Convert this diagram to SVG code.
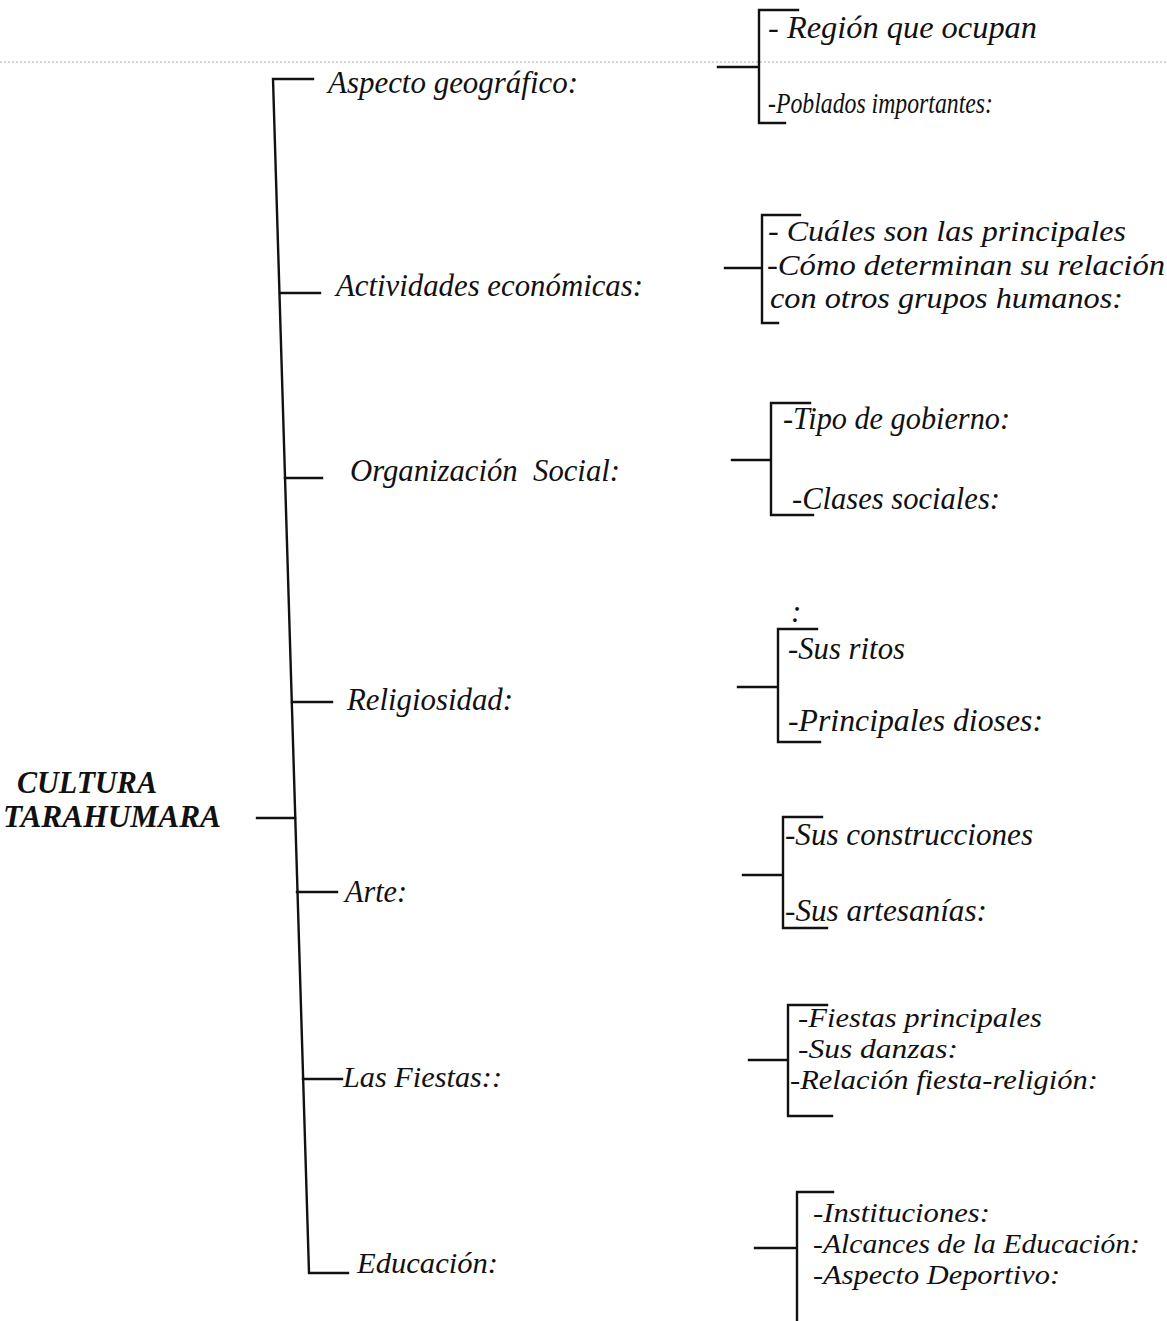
<svg xmlns="http://www.w3.org/2000/svg" width="1167" height="1321" viewBox="0 0 1167 1321">
<style>
.ln{fill:none;stroke:#111;stroke-width:2.4;stroke-linecap:square}
.t{font-family:"Liberation Serif","Times New Roman",serif;font-style:italic;font-size:31px;fill:#111;white-space:pre}
.s{font-size:29px}
.m{font-size:27px}
.b{font-weight:bold;font-size:31px}
</style>
<rect width="1167" height="1321" fill="#fff"/>
<line x1="0" y1="62" x2="1167" y2="62" stroke="#aaa" stroke-width="1" stroke-dasharray="2,2"/>
<g id="connectors">
<path class="ln" d="M313 79 H273 L309 1273 H348"/>
<path class="ln" d="M257 818 H295"/>
<path class="ln" d="M280 293 H320"/>
<path class="ln" d="M285 478 H322"/>
<path class="ln" d="M292 702 H332"/>
<path class="ln" d="M297 892 H337"/>
<path class="ln" d="M303 1079 H342"/>
<path class="ln" d="M798 10 H759 V123 H785 M718 67 H759"/>
<path class="ln" d="M800 215 H762 V323 H778 M725 268 H762"/>
<path class="ln" d="M810 403 H771 V515 H813 M732 460 H771"/>
<path class="ln" d="M817 629 H778 V742 H820 M738 687 H778"/>
<path class="ln" d="M822 817 H783 V928 H827 M743 875 H783"/>
<path class="ln" d="M827 1005 H788 V1116 H832 M749 1060 H788"/>
<path class="ln" d="M833 1192 H797 V1321 M755 1248 H797"/>
</g>
<g id="root"><text class="t b" x="17" y="793" textLength="140" lengthAdjust="spacingAndGlyphs">CULTURA</text><text class="t b" x="3" y="827" textLength="218" lengthAdjust="spacingAndGlyphs">TARAHUMARA</text></g>
<g id="n1"><text class="t" x="328" y="93" textLength="250" lengthAdjust="spacingAndGlyphs">Aspecto geográfico:</text></g>
<g id="n2"><text class="t" x="336" y="296" textLength="307" lengthAdjust="spacingAndGlyphs">Actividades económicas:</text></g>
<g id="n3"><text class="t" x="350" y="481" textLength="270" lengthAdjust="spacingAndGlyphs">Organización  Social:</text></g>
<g id="n4"><text class="t" x="347" y="710" textLength="166" lengthAdjust="spacingAndGlyphs">Religiosidad:</text></g>
<g id="n5"><text class="t" x="345" y="902" textLength="62" lengthAdjust="spacingAndGlyphs">Arte:</text></g>
<g id="n6"><text class="t s" x="343" y="1087" textLength="159" lengthAdjust="spacingAndGlyphs">Las Fiestas::</text></g>
<g id="n7"><text class="t s" x="357" y="1273" textLength="141" lengthAdjust="spacingAndGlyphs">Educación:</text></g>
<g id="d1"><text class="t" x="768" y="38" textLength="269" lengthAdjust="spacingAndGlyphs">- Región que ocupan</text><text class="t s" x="768" y="113" textLength="225" lengthAdjust="spacingAndGlyphs">-Poblados importantes:</text></g>
<g id="d2"><text class="t s" x="768" y="241" textLength="358" lengthAdjust="spacingAndGlyphs">- Cuáles son las principales</text><text class="t s" x="767" y="275" textLength="398" lengthAdjust="spacingAndGlyphs">-Cómo determinan su relación</text><text class="t s" x="770" y="308" textLength="353" lengthAdjust="spacingAndGlyphs">con otros grupos humanos:</text></g>
<g id="d3"><text class="t" x="783" y="429" textLength="227" lengthAdjust="spacingAndGlyphs">-Tipo de gobierno:</text><text class="t" x="792" y="509" textLength="208" lengthAdjust="spacingAndGlyphs">-Clases sociales:</text></g>
<g id="d4"><text class="t" x="791" y="622" font-size="20">:</text><text class="t" x="788" y="659" textLength="117" lengthAdjust="spacingAndGlyphs">-Sus ritos</text><text class="t" x="788" y="731" textLength="255" lengthAdjust="spacingAndGlyphs">-Principales dioses:</text></g>
<g id="d5"><text class="t" x="785" y="845" textLength="248" lengthAdjust="spacingAndGlyphs">-Sus construcciones</text><text class="t" x="785" y="921" textLength="202" lengthAdjust="spacingAndGlyphs">-Sus artesanías:</text></g>
<g id="d6"><text class="t m" x="798" y="1027" textLength="244" lengthAdjust="spacingAndGlyphs">-Fiestas principales</text><text class="t m" x="798" y="1058" textLength="160" lengthAdjust="spacingAndGlyphs">-Sus danzas:</text><text class="t m" x="790" y="1089" textLength="308" lengthAdjust="spacingAndGlyphs">-Relación fiesta-religión:</text></g>
<g id="d7"><text class="t m" x="813" y="1222" textLength="177" lengthAdjust="spacingAndGlyphs">-Instituciones:</text><text class="t m" x="813" y="1253" textLength="327" lengthAdjust="spacingAndGlyphs">-Alcances de la Educación:</text><text class="t m" x="813" y="1284" textLength="247" lengthAdjust="spacingAndGlyphs">-Aspecto Deportivo:</text></g>
</svg>
